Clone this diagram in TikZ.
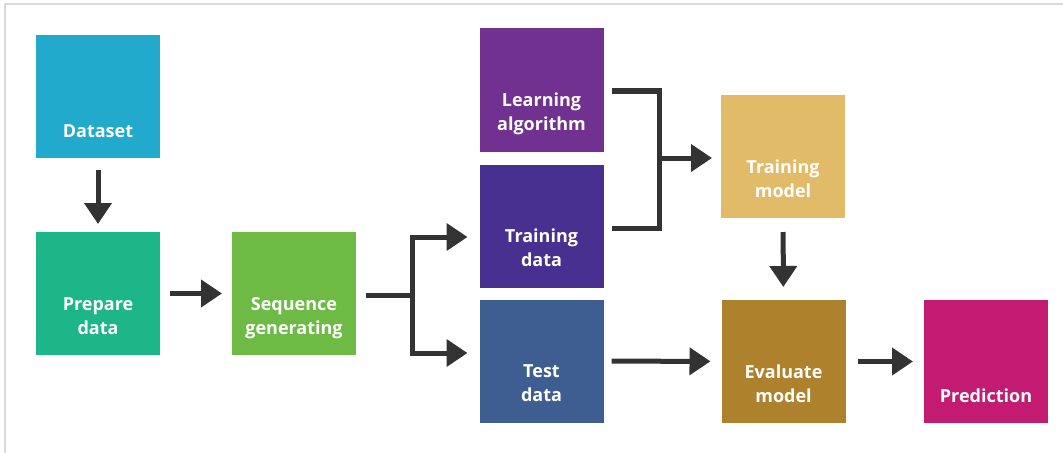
\documentclass[tikz,border=0pt]{standalone}
\usepackage{fontspec}
\setmainfont{Open Sans}
\usetikzlibrary{arrows.meta,calc}

\definecolor{cdata}{HTML}{22AACD}
\definecolor{cprep}{HTML}{1DB688}
\definecolor{cseq}{HTML}{6DBB45}
\definecolor{clearn}{HTML}{703190}
\definecolor{ctrain}{HTML}{47308F}
\definecolor{ctest}{HTML}{3E5E91}
\definecolor{cmodel}{HTML}{E2BB69}
\definecolor{ceval}{HTML}{AE822C}
\definecolor{cpred}{HTML}{C31B72}
\definecolor{cline}{HTML}{333333}

\begin{document}
\begin{tikzpicture}[x=.75pt,y=-.75pt,
	box/.style={fill=#1,minimum width=93pt,minimum height=92.25pt,inner sep=0,outer sep=0},
	lbl/.style={anchor=base,yshift=15.75pt,inner sep=0,align=center,text=white,
		font=\fontsize{13.5}{18}\selectfont\bfseries},
	ln/.style={cline,line width=3.75pt,line join=miter},
	arr/.style={ln,-{Triangle[length=15.75pt,width=20pt]}}]
\useasboundingbox (0,0) rectangle (1063,453);
\draw[black!15,line width=1.5pt] (5,453) |- (1063,4);

% boxes
\node[box=cdata,label={[lbl]south:Dataset}] (ds) at (98,96.5) {};
\node[box=cprep,label={[lbl]south:Prepare\\data}] (pd) at (98,293.5) {};
\node[box=cseq,label={[lbl]south:Sequence\\generating}] (sq) at (294,293.5) {};
\node[box=clearn,label={[lbl]south:Learning\\algorithm}] (la) at (541.5,90) {};
\node[box=ctrain,label={[lbl]south:Training\\data}] (trd) at (541.5,226) {};
\node[box=ctest,label={[lbl]south:Test\\data}] (tsd) at (541.5,361) {};
\node[box=cmodel,label={[lbl]south:Training\\model}] (tm) at (783,156.5) {};
\node[box=ceval,label={[lbl]south:Evaluate\\model}] (ev) at (783.5,361.5) {};
\node[box=cpred,label={[lbl]south:Prediction}] (pr) at (986,361.5) {};

% arrows
\draw[arr,shorten <=9pt,shorten >=6pt] (ds) -- (pd);
\draw[arr,shorten <=7.5pt,shorten >=7.5pt] (pd) -- (sq);

\coordinate (fk) at ($(sq.east)+(56,2)$);
\draw[arr] ($(sq.east)+(10,2)$) -- (fk) |- ($(trd.west)+(-12,11)$);
\draw[arr] ($(sq.east)+(10,2)$) -- (fk) |- ($(tsd.west)+(-12,-8)$);

\coordinate (mg) at ($(la.east)+(56,68)$);
\draw[ln] ($(la.east)+(8,1)$) -| ($(trd.east)+(56,2)$) -- ($(trd.east)+(8,2)$);
\draw[arr,shorten >=6.75pt] (mg) -- (mg -| tm.west);

\draw[arr,shorten <=6pt,shorten >=8.25pt] (tsd) -- (ev);
\draw[arr,shorten <=10.5pt,shorten >=9.75pt] (tm) -- (ev);
\draw[arr,shorten <=9pt,shorten >=8.25pt] (ev) -- (pr);
\end{tikzpicture}
\end{document}
